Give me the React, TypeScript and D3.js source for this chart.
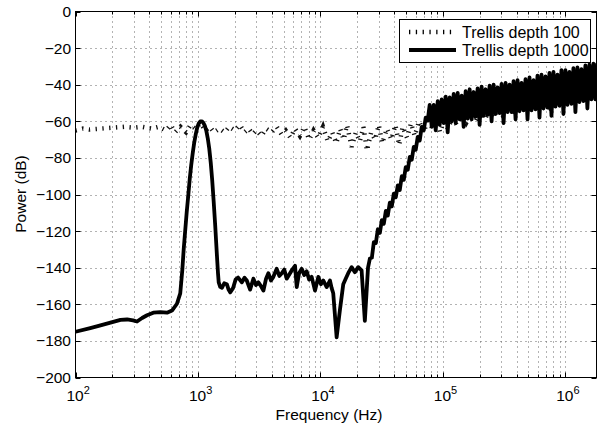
import React, { useEffect, useRef } from 'react';
import * as d3 from 'd3';

// [frequency in Hz, power in dB]
const depth1000: [number, number][] = [
  [100, -175], [132, -173], [160, -171.5], [193, -170], [233, -168.5], [264, -168.3],
  [295, -168.8], [318, -169.4], [350, -167.5], [384, -166], [432, -164.6], [493, -164.3],
  [559, -164.6], [614, -163.4], [674, -159.7], [717, -154], [745, -141.5], [765, -130],
  [787, -119.7], [810, -109.5], [834, -100.5], [857, -91.5], [881, -84], [907, -77.3],
  [933, -71.6], [960, -67], [987, -63.4], [1015, -61.2], [1045, -60.1], [1075, -60],
  [1105, -60.7], [1137, -62.3], [1169, -65], [1203, -69.3], [1237, -74.9], [1272, -82.5],
  [1308, -92.3], [1345, -104], [1384, -117], [1410, -126.5], [1437, -136], [1458, -143],
  [1478, -148], [1520, -150.5], [1570, -151], [1640, -148.5], [1722, -149], [1780, -152],
  [1833, -153.5], [1940, -151], [2030, -146.5], [2130, -145.4], [2284, -148], [2400, -145.5],
  [2506, -147], [2667, -152], [2837, -146], [2980, -149.5], [3118, -148], [3270, -150],
  [3427, -152.5], [3600, -146], [3760, -143], [3950, -147], [4130, -145], [4400, -140.6],
  [4620, -144.5], [4840, -143], [5070, -141], [5310, -146], [5830, -141.5], [6210, -139],
  [6410, -150.6], [6700, -143], [7040, -140.6], [7380, -144], [7730, -142], [8100, -146.5],
  [8490, -145], [9040, -152.5], [9620, -145], [10100, -149], [10570, -147], [11260, -150.6],
  [11970, -147], [12350, -151], [12740, -154], [13580, -178], [14450, -163], [15380, -149],
  [16100, -146], [16880, -143], [17990, -139.7], [19140, -142.5], [20370, -139.7], [21710, -141.5],
  [23080, -169], [24500, -140],
  [25370, -135], [26340, -134.5], [27340, -126], [28390, -126.5], [29470, -119], [30600, -121],
  [31770, -114], [32980, -116], [34240, -109], [35550, -111.5], [36910, -104.5], [38320, -106.5],
  [39790, -99.5], [41310, -101.5], [42890, -95], [44520, -97.5], [46240, -90], [48000, -92],
  [49830, -85], [51740, -86.5], [53720, -79.5], [55770, -81], [57900, -74], [60110, -75.5],
  [62410, -68.5], [64800, -70.5], [67270, -63], [69840, -65], [72510, -58], [75280, -59.5],
  [78160, -51],
  [81200, -63], [84300, -51], [87500, -65], [90900, -49], [94300, -62], [97900, -48],
  [101700, -61], [105600, -46.5], [109600, -66], [113800, -47], [118200, -60], [122700, -45],
  [127400, -61], [132300, -44.5], [137300, -59], [142600, -46], [148000, -63], [153700, -43.5],
  [159600, -58.5], [165700, -42.5], [172000, -59], [178600, -44], [185400, -57.5], [192500, -42],
  [199800, -62], [207500, -41], [215400, -57], [223700, -42.5], [232200, -56.5], [241100, -40.5],
  [250300, -60], [259900, -40], [269800, -56], [280200, -41.5], [290900, -55.5], [302000, -39.5],
  [313600, -61], [325600, -39], [338000, -55], [351000, -40], [364400, -55], [378300, -38],
  [392800, -59], [407800, -37.5], [423400, -54.5], [439500, -39], [456400, -54], [473800, -37],
  [491900, -59], [510700, -36], [530300, -54], [550600, -37.5], [571600, -53.5], [593500, -35],
  [616200, -58], [639700, -34.5], [664200, -53], [689700, -35.5], [716000, -52.5], [743400, -33.5],
  [771900, -57], [801400, -33], [832000, -52], [863800, -34.5], [896800, -51.5], [931100, -32],
  [966700, -56], [1003700, -32], [1042100, -51], [1081900, -33], [1123300, -50.5], [1166200, -31],
  [1210800, -55], [1257100, -30.5], [1305100, -49.5], [1355000, -31.5], [1406800, -49], [1460600, -29.5],
  [1516400, -53], [1574400, -29], [1634600, -48], [1697100, -28.5], [1762000, -48], [1829000, -28],
];

const depth100: [number, number][] = [
  [100, -65], [115, -64], [130, -64.5], [160, -64], [200, -63.5], [250, -63], [300, -63.5],
  [350, -63], [420, -64], [480, -63], [550, -65], [600, -62], [650, -66], [720, -63],
  [800, -66], [870, -62], [950, -64], [1050, -61], [1150, -65], [1250, -63], [1350, -66],
  [1500, -64], [1650, -66], [1800, -63], [2000, -65], [2200, -62], [2400, -66], [2600, -64],
  [2800, -67], [3000, -65], [3300, -68], [3600, -64], [4000, -66], [4400, -63], [4800, -67],
  [5200, -65], [5700, -69], [6200, -64], [6800, -68], [7400, -63], [8100, -70], [8800, -65],
  [9600, -69], [10500, -63], [11500, -71], [12500, -66], [13500, -72], [14500, -64],
  [15500, -70], [16500, -62], [18000, -74], [19500, -66], [21000, -71], [22500, -63],
  [24000, -76], [26000, -66], [28000, -70], [30000, -62], [32000, -72], [35000, -64],
  [38000, -70], [41000, -62], [44000, -73], [47000, -63], [51000, -69], [55000, -61],
  [59000, -68], [64000, -60], [70000, -66], [76000, -58], [82000, -64], [88000, -58],
  [95000, -66], [102000, -60], [110000, -64], [120000, -58], [130000, -62], [142000, -57],
  [155000, -61], [170000, -56], [185000, -60], [200000, -55], [220000, -59], [240000, -54],
  [260000, -58], [285000, -53], [310000, -57], [340000, -52], [370000, -56], [400000, -51],
  [440000, -55], [480000, -50], [520000, -54], [570000, -49], [620000, -53], [680000, -48],
  [740000, -52], [810000, -47], [880000, -51], [960000, -46], [1050000, -50], [1150000, -45],
  [1250000, -50], [1370000, -44], [1500000, -49], [1640000, -43], [1800000, -48],
];

const freqTicks = [1e2, 1e3, 1e4, 1e5, 1e6];
const powerTicks = [0, -20, -40, -60, -80, -100, -120, -140, -160, -180, -200];
const seriesNames = ['Trellis depth 100', 'Trellis depth 1000'];

const FONT = 'Liberation Sans, Arial, Helvetica, sans-serif';
const DOTTED = '1.3 5.5';
const SOLID_WIDTH = 3.8;

export default function App() {
  const svgRef = useRef<SVGSVGElement>(null);

  useEffect(() => {
    if (!svgRef.current) return;
    const svg = d3.select(svgRef.current);
    svg.selectAll('*').remove();

    const left = 75.5, right = 596.5, top = 11.5, bottom = 377.5;

    const x = d3.scaleLog().domain([100, 1.8e6]).range([left, right]);
    const y = d3.scaleLinear().domain([-200, 0]).range([bottom, top]);

    const allX = x.ticks().filter(f => f >= 100 && f <= 1.8e6);
    const majorX = allX.filter(f => Math.abs(Math.log10(f) - Math.round(Math.log10(f))) < 1e-9);
    const minorX = allX.filter(f => !majorX.includes(f));

    svg.append('rect').attr('width', 597).attr('height', 428).attr('fill', '#fff');

    // dotted grid
    const grid = svg.append('g')
      .attr('stroke', '#666')
      .attr('stroke-width', 1)
      .attr('stroke-dasharray', '1 4');
    grid.selectAll('.gx')
      .data(allX.filter(f => f > 100))
      .enter()
      .append('line')
      .attr('x1', d => Math.round(x(d)) + 0.5)
      .attr('x2', d => Math.round(x(d)) + 0.5)
      .attr('y1', top)
      .attr('y2', bottom);
    grid.selectAll('.gy')
      .data(powerTicks.filter(v => v !== 0 && v !== -200))
      .enter()
      .append('line')
      .attr('x1', left)
      .attr('x2', right)
      .attr('y1', d => Math.round(y(d)) + 0.5)
      .attr('y2', d => Math.round(y(d)) + 0.5);

    // series
    svg.append('clipPath').attr('id', 'plotClip')
      .append('rect')
      .attr('x', left).attr('y', top)
      .attr('width', right - left).attr('height', bottom - top);

    const lineGen = d3.line<[number, number]>()
      .x(d => x(d[0]))
      .y(d => y(d[1]));

    const plot = svg.append('g').attr('clip-path', 'url(#plotClip)');

    plot.append('path')
      .datum(depth100)
      .attr('d', lineGen)
      .attr('fill', 'none')
      .attr('stroke', '#111')
      .attr('stroke-width', 4.5)
      .attr('stroke-dasharray', DOTTED);

    plot.append('path')
      .datum(depth1000)
      .attr('d', lineGen)
      .attr('fill', 'none')
      .attr('stroke', '#000')
      .attr('stroke-width', SOLID_WIDTH)
      .attr('stroke-linejoin', 'round');

    // axes box and ticks
    const axes = svg.append('g').attr('stroke', '#000').attr('stroke-width', 1);
    axes.append('rect')
      .attr('x', left).attr('y', top)
      .attr('width', right - left).attr('height', bottom - top)
      .attr('fill', 'none');

    const xTick = (vals: number[], len: number) => {
      vals.forEach(f => {
        const px = Math.round(x(f)) + 0.5;
        axes.append('line').attr('x1', px).attr('x2', px).attr('y1', bottom).attr('y2', bottom - len);
        axes.append('line').attr('x1', px).attr('x2', px).attr('y1', top).attr('y2', top + len);
      });
    };
    xTick(majorX, 5);
    xTick(minorX, 3);

    powerTicks.forEach(v => {
      const py = Math.round(y(v)) + 0.5;
      axes.append('line').attr('x1', left).attr('x2', left + 5).attr('y1', py).attr('y2', py);
      axes.append('line').attr('x1', right).attr('x2', right - 5).attr('y1', py).attr('y2', py);
    });

    // tick labels
    svg.append('g')
      .selectAll('text')
      .data(powerTicks)
      .enter()
      .append('text')
      .attr('x', 71)
      .attr('y', d => y(d))
      .attr('dy', '0.35em')
      .attr('text-anchor', 'end')
      .style('font-family', FONT)
      .style('font-size', '15.5px')
      .style('fill', '#000')
      .text(d => (d < 0 ? '\u2212' + Math.abs(d) : String(d)));

    freqTicks.forEach(f => {
      const t = svg.append('text')
        .attr('x', x(f) - 9)
        .attr('y', 401)
        .style('font-family', FONT)
        .style('font-size', '15.5px')
        .style('fill', '#000');
      t.append('tspan').text('10');
      t.append('tspan')
        .attr('dy', -7)
        .style('font-size', '11px')
        .text(String(Math.round(Math.log10(f))));
    });

    // axis labels
    svg.append('text')
      .attr('x', 329)
      .attr('y', 420)
      .attr('text-anchor', 'middle')
      .style('font-family', FONT)
      .style('font-size', '15.5px')
      .text('Frequency (Hz)');

    svg.append('text')
      .attr('transform', `translate(26, 194) rotate(-90)`)
      .attr('text-anchor', 'middle')
      .style('font-family', FONT)
      .style('font-size', '15.5px')
      .text('Power (dB)');

    // legend
    const legend = svg.append('g');
    legend.append('rect')
      .attr('x', 399.5).attr('y', 19.5)
      .attr('width', 191).attr('height', 43)
      .attr('fill', '#fff')
      .attr('stroke', '#000');

    const legendRows = [
      { name: seriesNames[0], dash: DOTTED, width: 4.5, yy: 32 },
      { name: seriesNames[1], dash: null, width: SOLID_WIDTH, yy: 50 },
    ];
    legendRows.forEach(r => {
      legend.append('line')
        .attr('x1', 409).attr('x2', 456)
        .attr('y1', r.yy).attr('y2', r.yy)
        .attr('stroke', '#000')
        .attr('stroke-width', r.width)
        .attr('stroke-dasharray', r.dash);
      legend.append('text')
        .attr('x', 462)
        .attr('y', r.yy)
        .attr('dy', '0.35em')
        .style('font-family', FONT)
        .style('font-size', '16px')
        .text(r.name);
    });
  }, []);

  return (
    <svg
      ref={svgRef}
      width={597}
      height={428}
      style={{ position: 'absolute', left: 0, top: 0 }}
    />
  );
}
